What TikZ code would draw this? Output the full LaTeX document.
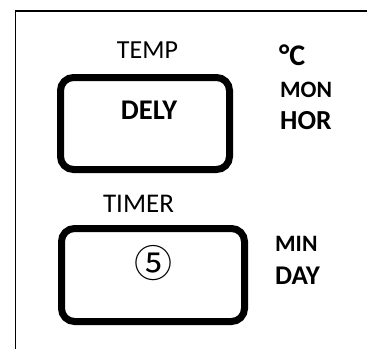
\documentclass[tikz,border=0pt]{standalone}
\usepackage{fontspec}
\setmainfont{Carlito}
\newfontfamily\symfont{Noto Sans CJK JP}
\begin{document}
\begin{tikzpicture}[x=1pt,y=-1pt,
  frameline/.style={draw=black,line width=1.5pt},
  keybox/.style={draw=black,line width=7pt,rounded corners=13pt,inner sep=0pt},
  lbl/.style={inner sep=0pt,anchor=base},
  side/.style={inner sep=0pt,anchor=base west,font=\bfseries}]
\useasboundingbox (0,0) rectangle (367,349);
% outer frame (cut by the picture edges)
\coordinate (ftl) at (15.5,11);
\coordinate (ftr) at (367,11);
\coordinate (fbl) at (15.5,349);
\draw[frameline] (ftr) -- (ftl) -- (fbl);
% keys
\node[keybox,minimum width=169pt,minimum height=92pt] (key1) at (145,123.5) {};
\node[keybox,minimum width=183pt,minimum height=93pt] (key2) at (153,275) {};
% labels
\node[lbl,font=\fontsize{26}{28}\selectfont] (temp) at (147.5,58) {TEMP};
\node[lbl,font=\bfseries\fontsize{28.5}{30}\selectfont] (dely) at (149,119) {DELY};
\node[lbl,font=\fontsize{27}{29}\selectfont] (timer) at (138.5,212) {TIMER};
\node[inner sep=0pt,font=\symfont\fontsize{38}{40}\selectfont] (five) at (153,263) {⑤};
\node[side,font=\bfseries\fontsize{30}{32}\selectfont] (degc) at (279,65) {°C};
\node[side,font=\bfseries\fontsize{23.5}{26}\selectfont] (mon) at (280,97) {MON};
\node[side,font=\bfseries\fontsize{27.5}{30}\selectfont] (hor) at (280,129) {HOR};
\node[side,font=\bfseries\fontsize{23.5}{26}\selectfont] (min) at (275,251) {MIN};
\node[side,font=\bfseries\fontsize{27}{29}\selectfont] (day) at (275,284) {DAY};
\end{tikzpicture}
\end{document}
